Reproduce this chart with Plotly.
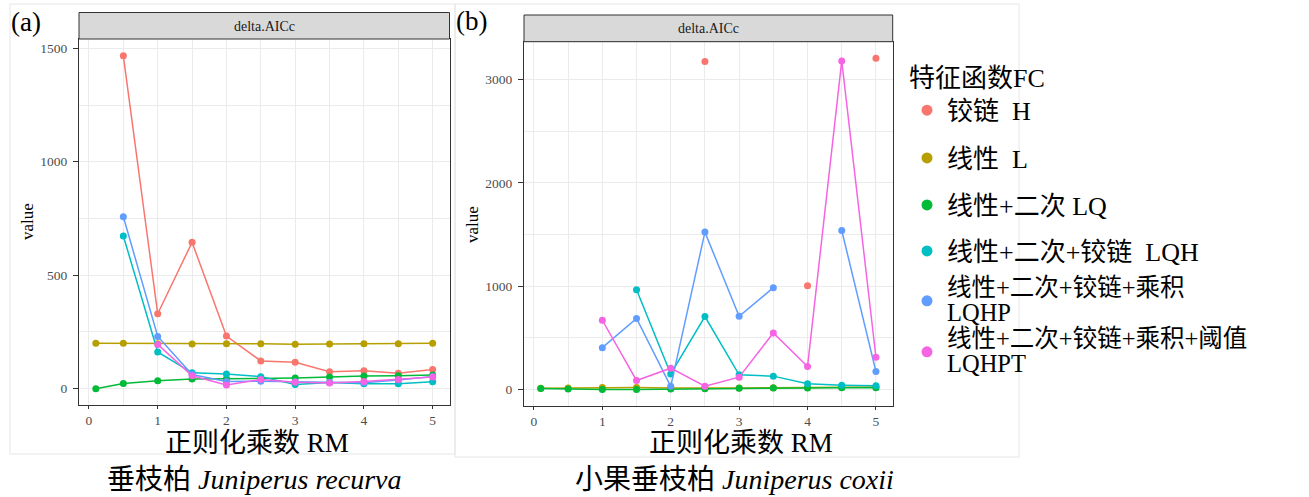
import plotly.graph_objects as go

nan = None
W, H = 1309, 497

rm = [0.1, 0.5, 1, 1.5, 2, 2.5, 3, 3.5, 4, 4.5, 5]

fc_names = ["铰链\u00a0\u00a0H", "线性\u00a0\u00a0L", "线性+二次 LQ", "线性+二次+铰链\u00a0\u00a0LQH",
            '<span style="font-size:24.5px">线性+二次+铰链+乘积<br>LQHP</span>',
            '<span style="font-size:24.5px">线性+二次+铰链+乘积+阈值<br>LQHPT</span>']
fc_colors = ["#F8766D", "#B79F00", "#00BA38", "#00BFC4", "#619CFF", "#F564E3"]

# panel (a) Juniperus recurva
a_H     = [nan, 1467, 330, 645, 232, 122, 116, 75, 79, 68, 84]
a_L     = [200, 200, 198, 197, 198, 198, 196, 197, 198, 198, 200]
a_LQ    = [0, 23, 35, 43, 44, 45, 47, 51, 56, 57, 60]
a_LQH   = [nan, 673, 162, 70, 65, 53, 18, 27, 22, 22, 30]
a_LQHP  = [nan, 758, 230, 62, 32, 33, 30, 27, 26, 38, 54]
a_LQHPT = [nan, nan, 195, 57, 16, 40, 28, 25, 32, 40, 51]

# panel (b) Juniperus coxii
b_H     = [nan, nan, nan, nan, nan, 3174, nan, nan, 1004, nan, 3206]
b_L     = [12, 15, 18, 18, 15, 12, 14, 17, 20, 22, 24]
b_LQ    = [10, 4, 0, 0, 4, 8, 12, 15, 15, 16, 16]
b_LQH   = [nan, nan, nan, 966, 150, 706, 142, 129, 55, 42, 36]
b_LQHP  = [nan, nan, 405, 687, 30, 1523, 708, 985, nan, 1539, 174]
b_LQHPT = [nan, nan, 670, 87, 206, 32, 119, 547, 222, 3180, 312]

a_series = [a_H, a_L, a_LQ, a_LQH, a_LQHP, a_LQHPT]
b_series = [b_H, b_L, b_LQ, b_LQH, b_LQHP, b_LQHPT]

SERIF = "Liberation Serif, Noto Sans CJK SC, serif"

def px(x):
    return x / W

def py(y):
    return 1 - y / H

fig = go.Figure()

for series, xa, ya in [(a_series, "x", "y"), (b_series, "x2", "y2")]:
    for vals, name, col in zip(series, fc_names, fc_colors):
        fig.add_trace(go.Scatter(
            x=rm, y=vals, mode="lines+markers", xaxis=xa, yaxis=ya,
            line=dict(color=col, width=1.5), marker=dict(color=col, size=7),
            showlegend=False, name=name, connectgaps=False))

# legend entries (points only, like the ggplot key); one legend box per entry
legend_ids = ["legend", "legend2", "legend3", "legend4", "legend5", "legend6"]
for name, col, lid in zip(fc_names, fc_colors, legend_ids):
    fig.add_trace(go.Scatter(
        x=[None], y=[None], mode="markers", xaxis="x", yaxis="y",
        marker=dict(color=col, size=11), name=name, legend=lid, showlegend=True))

axis_common = dict(
    ticks="outside", tickcolor="#333333", tickwidth=1,
    showline=True, mirror=True, linecolor="#333333", linewidth=1,
    showgrid=True, gridcolor="#ebebeb", gridwidth=1, zeroline=False,
    tickfont=dict(family=SERIF, size=13.5, color="#4d4d4d"),
)
minor_x = dict(dtick=0.5, tick0=0, showgrid=True, gridcolor="#ebebeb", gridwidth=0.5, ticks="")

fig.update_layout(
    width=W, height=H, margin=dict(l=0, r=0, t=0, b=0),
    paper_bgcolor="white", plot_bgcolor="white",
    xaxis=dict(domain=[px(79), px(449.5)], range=[-0.145, 5.245], tickvals=[0, 1, 2, 3, 4, 5],
               minor=minor_x, anchor="y", ticklen=3, **axis_common),
    yaxis=dict(domain=[py(405), py(39)], range=[-72, 1541], tickvals=[0, 500, 1000, 1500],
               minor=dict(dtick=250, tick0=0, showgrid=True, gridcolor="#ebebeb", gridwidth=0.5, ticks=""),
               anchor="x", ticklen=5, ticklabelstandoff=3, **axis_common),
    xaxis2=dict(domain=[px(524), px(892.7)], range=[-0.145, 5.245], tickvals=[0, 1, 2, 3, 4, 5],
                minor=minor_x, anchor="y2", ticklen=3, **axis_common),
    yaxis2=dict(domain=[py(406), py(41.7)], range=[-160, 3366], tickvals=[0, 1000, 2000, 3000],
                minor=dict(dtick=500, tick0=0, showgrid=True, gridcolor="#ebebeb", gridwidth=0.5, ticks=""),
                anchor="x2", ticklen=5, ticklabelstandoff=3, **axis_common),
)

legend_cfg = dict(
    legend=dict(x=px(907), y=py(53), xanchor="left", yanchor="top",
                title=dict(text="特征函数FC", font=dict(family=SERIF, size=26, color="black")),
                font=dict(family=SERIF, size=26, color="black"),
                bgcolor="rgba(0,0,0,0)", itemsizing="trace"),
)
centers = [158, 205, 251, 301, 352]
for lid, cy in zip(legend_ids[1:], centers):
    legend_cfg[lid] = dict(x=px(907), y=py(cy), xanchor="left", yanchor="middle",
                           font=dict(family=SERIF, size=26 if cy < 280 else 19.5, color="black"),
                           bgcolor="rgba(0,0,0,0)", itemsizing="trace", valign="middle")
fig.update_layout(**legend_cfg)

shapes = []
# faint outer frames of the two sub-figures
shapes.append(dict(type="rect", xref="paper", yref="paper", x0=px(10), x1=px(455), y0=py(454), y1=py(4),
                   line=dict(color="#e6e6e6", width=1), fillcolor="rgba(0,0,0,0)", layer="below"))
shapes.append(dict(type="rect", xref="paper", yref="paper", x0=px(455), x1=px(1019), y0=py(457), y1=py(4),
                   line=dict(color="#e6e6e6", width=1), fillcolor="rgba(0,0,0,0)", layer="below"))
# facet strips
shapes.append(dict(type="rect", xref="paper", yref="paper", x0=px(79), x1=px(449.5), y0=py(39), y1=py(12.5),
                   line=dict(color="#333333", width=1), fillcolor="#d9d9d9"))
shapes.append(dict(type="rect", xref="paper", yref="paper", x0=px(524), x1=px(892.7), y0=py(41.7), y1=py(15),
                   line=dict(color="#333333", width=1), fillcolor="#d9d9d9"))
fig.update_layout(shapes=shapes)

ann = []
def add(text, x, y, size, xanchor="center", angle=0, color="black"):
    ann.append(dict(text=text, x=px(x), y=py(y), xref="paper", yref="paper", showarrow=False,
                    xanchor=xanchor, yanchor="middle", textangle=angle,
                    font=dict(family=SERIF, size=size, color=color)))

add("(a)", 9, 22, 27, xanchor="left")
add("(b)", 454, 21, 27, xanchor="left")
add("delta.AICc", 264, 26, 14, color="#1a1a1a")
add("delta.AICc", 708, 28.5, 14, color="#1a1a1a")
add("value", 27, 222, 17, angle=-90)
add("value", 473, 225, 17, angle=-90)
add("正则化乘数 RM", 257, 443, 27)
add("正则化乘数 RM", 741, 443, 27)
add("垂枝柏 <i>Juniperus recurva</i>", 254, 479, 28)
add("小果垂枝柏 <i>Juniperus coxii</i>", 734, 479, 28)
fig.update_layout(annotations=ann)

fig.write_html("out.html", config={"displayModeBar": False},
               post_script="document.body.style.margin='0px';")
